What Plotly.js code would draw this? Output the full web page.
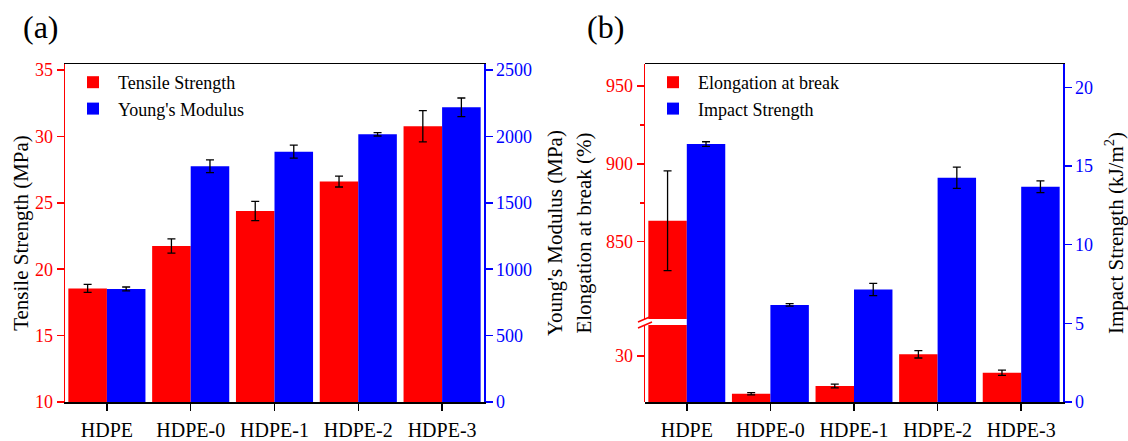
<!DOCTYPE html>
<html>
<head>
<meta charset="utf-8">
<script src="https://cdn.plot.ly/plotly-3.0.1.min.js"></script>
<style>html,body{margin:0;padding:0;background:#fff;}#chart{width:1128px;height:441px;}</style>
</head>
<body>
<div id="chart"></div>
<script>
const categories = ['HDPE', 'HDPE-0', 'HDPE-1', 'HDPE-2', 'HDPE-3'];
const tensile = [18.55, 21.75, 24.38, 26.6, 30.76];
const tensileErr = [0.3, 0.54, 0.73, 0.41, 1.18];
const modulus = [851, 1775, 1885, 2016, 2219];
const modulusErr = [15, 48, 49, 13, 70];
const elongation = [863.5, 5.4, 10.4, 31.1, 19.1];
const elongationErr = [32, 0.7, 1.2, 2.4, 1.7];
const impact = [16.39, 6.17, 7.15, 14.25, 13.68];
const impactErr = [0.15, 0.08, 0.39, 0.68, 0.37];
const tensileTicks = [10, 15, 20, 25, 30, 35];
const modulusTicks = [0, 500, 1000, 1500, 2000, 2500];
const elongLowTicks = [30];
const elongHighTicks = [850, 900, 950];
const impactTicks = [0, 5, 10, 15, 20];

const RED = '#FF0000', BLUE = '#0000FF';
const FONT = 'Liberation Serif, Times New Roman, serif';
const W = 1128, H = 441;
const px = v => v / W;
const py = v => (H - v) / H;
const BW = 0.46;

function err(arr) {
  return {type: 'data', array: arr, visible: true, color: '#000', thickness: 1.3, width: 4};
}

const traces = [
  {type: 'bar', name: 'Tensile Strength', x: categories, y: tensile, xaxis: 'x', yaxis: 'y',
   width: BW, offset: -BW, marker: {color: RED}, error_y: err(tensileErr), legend: 'legend'},
  {type: 'bar', name: "Young's Modulus", x: categories, y: modulus, xaxis: 'x', yaxis: 'y2',
   width: BW, offset: 0, marker: {color: BLUE}, error_y: err(modulusErr), legend: 'legend'},
  {type: 'bar', name: 'Elongation at break', x: categories, y: elongation, xaxis: 'x2', yaxis: 'y4',
   width: BW, offset: -BW, marker: {color: RED}, error_y: err(elongationErr), legend: 'legend2'},
  {type: 'bar', name: 'Elongation at break', x: categories, y: elongation, xaxis: 'x2', yaxis: 'y3',
   width: BW, offset: -BW, marker: {color: RED}, error_y: err(elongationErr), legend: 'legend2', showlegend: false},
  {type: 'bar', name: 'Impact Strength', x: categories, y: impact, xaxis: 'x2', yaxis: 'y5',
   width: BW, offset: 0, marker: {color: BLUE}, error_y: err(impactErr), legend: 'legend2'},
  {type: 'scatter', mode: 'markers', x: [categories[0]], y: [0.5], xaxis: 'x2', yaxis: 'y6',
   marker: {opacity: 0, size: 1}, showlegend: false, hoverinfo: 'skip'}
];

const tickFont = c => ({family: FONT, size: 18, color: c});
const titleFont = {family: FONT, size: 21, color: '#000'};

function yax(o) {
  return Object.assign({
    showgrid: false, zeroline: false, showline: true, linewidth: 1.5,
    ticks: 'outside', ticklen: 7, tickwidth: 1.5, tickmode: 'array', fixedrange: true
  }, o);
}
function xax(o) {
  return Object.assign({
    type: 'category', range: [-0.5, 4.5], showgrid: false, zeroline: false,
    showline: true, linewidth: 1.5, linecolor: '#000', mirror: true,
    ticks: 'outside', ticklen: 7, tickwidth: 1.5, tickcolor: '#000',
    tickfont: {family: FONT, size: 20, color: '#000'}, ticklabelstandoff: 2
  }, o);
}

const yDom = [py(402), py(64)];

const layout = {
  width: W, height: H,
  margin: {l: 0, r: 0, t: 0, b: 0},
  paper_bgcolor: '#fff', plot_bgcolor: 'rgba(0,0,0,0)',
  barmode: 'overlay',
  font: {family: FONT},
  xaxis: xax({domain: [px(65), px(484)], anchor: 'y'}),
  yaxis: yax({domain: yDom, anchor: 'x', range: [10, 35.45], tickvals: tensileTicks,
    linecolor: RED, tickcolor: RED, tickfont: tickFont(RED),
    title: {text: 'Tensile Strength (MPa)', font: titleFont, standoff: 0}}),
  yaxis2: yax({overlaying: 'y', side: 'right', anchor: 'x', range: [0, 2545], tickvals: modulusTicks,
    linecolor: BLUE, tickcolor: BLUE, tickfont: tickFont(BLUE),
    title: {text: "Young's Modulus (MPa)", font: titleFont, standoff: 16}}),
  xaxis2: xax({domain: [px(645), px(1063)], anchor: 'y5'}),
  yaxis3: yax({domain: [py(402), py(325)], anchor: 'x2', range: [0, 50.2], tickvals: elongLowTicks,
    linecolor: RED, tickcolor: RED, tickfont: tickFont(RED)}),
  yaxis4: yax({domain: [py(319), py(64)], anchor: 'x2', range: [800.4, 964.1], tickvals: elongHighTicks,
    minor: {tickmode: 'array', tickvals: [875, 925], ticklen: 4, tickwidth: 1.5, tickcolor: RED, ticks: 'outside'},
    linecolor: RED, tickcolor: RED, tickfont: tickFont(RED)}),
  yaxis5: yax({domain: yDom, anchor: 'x2', side: 'right', range: [0, 21.48], tickvals: impactTicks,
    linecolor: BLUE, tickcolor: BLUE, tickfont: tickFont(BLUE),
    title: {text: 'Impact Strength (kJ/m<sup>2</sup>)', font: titleFont, standoff: 17}}),
  yaxis6: {domain: yDom, anchor: 'x2', side: 'left', range: [0, 1], showline: false, showgrid: false,
    zeroline: false, ticks: '', showticklabels: false, fixedrange: true,
    title: {text: 'Elongation at break (%)', font: titleFont, standoff: 46}},
  legend: {x: px(68), y: py(64), xanchor: 'left', yanchor: 'top', bgcolor: 'rgba(0,0,0,0)',
    font: {family: FONT, size: 18, color: '#000'}, traceorder: 'normal', itemwidth: 40, tracegroupgap: 0},
  legend2: {x: px(648), y: py(64), xanchor: 'left', yanchor: 'top', bgcolor: 'rgba(0,0,0,0)',
    font: {family: FONT, size: 18, color: '#000'}, traceorder: 'normal', itemwidth: 40, tracegroupgap: 0},
  annotations: [
    {text: '(a)', xref: 'paper', yref: 'paper', x: px(41), y: py(27), xanchor: 'center', yanchor: 'middle',
     showarrow: false, font: {family: FONT, size: 32, color: '#000'}},
    {text: '(b)', xref: 'paper', yref: 'paper', x: px(605), y: py(27), xanchor: 'center', yanchor: 'middle',
     showarrow: false, font: {family: FONT, size: 32, color: '#000'}}
  ],
  shapes: [
    {type: 'line', xref: 'paper', yref: 'paper', x0: px(638), y0: py(322), x1: px(652), y1: py(316),
     line: {color: RED, width: 1.5}},
    {type: 'line', xref: 'paper', yref: 'paper', x0: px(638), y0: py(328), x1: px(652), y1: py(322),
     line: {color: RED, width: 1.5}}
  ]
};

Plotly.newPlot('chart', traces, layout, {displayModeBar: false, staticPlot: true});
</script>
</body>
</html>
